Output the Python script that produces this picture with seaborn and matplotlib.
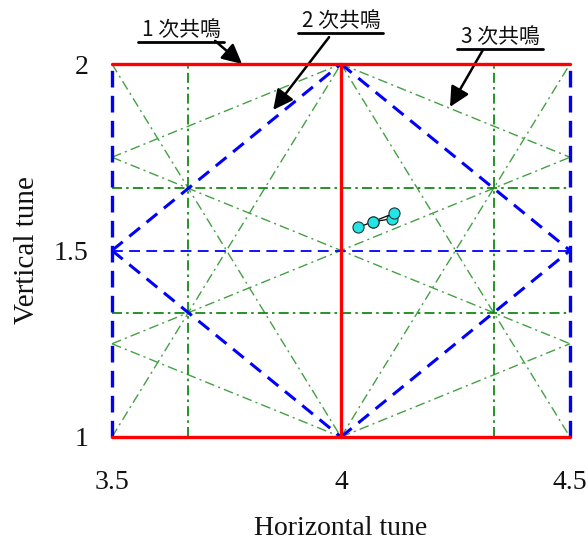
import matplotlib
matplotlib.use("Agg")
import matplotlib.pyplot as plt
from matplotlib.lines import Line2D
import seaborn as sns
import pandas as pd

# resonance lines a*Qx + b*Qy = n, grouped by order
order1 = [(1, 0, 4), (0, 1, 1), (0, 1, 2)]
order2_edges = [(2, 0, 7), (2, 0, 9)]
order2_mid = [(0, 2, 3)]
order2_diag = [(1, 1, 5), (1, 1, 6), (1, -1, 2), (1, -1, 3)]
order3_straight = [(3, 0, 11), (3, 0, 13), (0, 3, 4), (0, 3, 5)]
order3_diag = [(2, 1, 9), (2, 1, 10), (2, -1, 6), (2, -1, 7),
               (1, 2, 6), (1, 2, 7), (1, 2, 8),
               (1, -2, 0), (1, -2, 1), (1, -2, 2)]

# measured tune points
tune_run = [1, 1, 1, 2, 2]
tune_x = [4.038, 4.069, 4.111, 4.069, 4.116]
tune_y = [1.562, 1.577, 1.585, 1.577, 1.600]

x_ticks = [3.5, 4, 4.5]
x_labels = ["3.5", "4", "4.5"]
y_ticks = [1, 1.5, 2]
y_labels = ["1", "1.5", "2"]

labels = ["1 次共鳴", "2 次共鳴", "3 次共鳴"]
label_pos = [(3.651, 2.091), (4.000, 2.115), (4.349, 2.072)]
arrow_from = [(3.725, 2.062), (3.974, 2.072), (4.310, 2.038)]
arrow_to = [(3.784, 2.000), (3.852, 1.877), (4.238, 1.885)]

XMIN, XMAX, YMIN, YMAX = 3.5, 4.5, 1.0, 2.0


def segment(a, b, n):
    # clip the line a*x+b*y=n to the tune box
    pts = []
    if b != 0:
        for x in (XMIN, XMAX):
            y = (n - a * x) / b
            if YMIN - 1e-9 <= y <= YMAX + 1e-9:
                pts.append((x, y))
    if a != 0:
        for y in (YMIN, YMAX):
            x = (n - b * y) / a
            if XMIN - 1e-9 <= x <= XMAX + 1e-9:
                pts.append((x, y))
    pts = sorted(set((round(p[0], 9), round(p[1], 9)) for p in pts))
    return pts[0], pts[-1]


sns.set_theme(style="white")
plt.rcParams["font.family"] = ["Liberation Serif", "DejaVu Serif"]

fig = plt.figure(figsize=(5.88, 5.44), dpi=100)
ax = fig.add_axes([112 / 588, 107 / 544, 458 / 588, 373 / 544])


def draw(lines, **kw):
    for a, b, n in lines:
        p, q = segment(a, b, n)
        ax.plot([p[0], q[0]], [p[1], q[1]], clip_on=False, **kw)


draw(order3_diag, color="#44a044", lw=1.0, linestyle=(0, (7, 3, 1.5, 3)), zorder=1)
draw(order3_straight, color="#008000", lw=1.2, linestyle=(0, (6, 2.5, 1.5, 2.5)), zorder=2)
draw(order2_mid, color="#0000ff", lw=1.3, linestyle=(0, (6, 3.5)), zorder=3)
draw(order2_diag, color="#0000ff", lw=2.2, linestyle=(0, (4.5, 2.8)), zorder=3)
draw(order2_edges, color="#0000ff", lw=2.4, linestyle=(0, (5, 2.5)), zorder=3)
draw(order1, color="#ff0000", lw=2.4, zorder=4)

df = pd.DataFrame({"run": tune_run, "Qx": tune_x, "Qy": tune_y})
sns.lineplot(data=df, x="Qx", y="Qy", units="run", estimator=None, sort=False,
             color="black", lw=0.9, marker="o", markersize=8,
             markerfacecolor="#22e5e5", markeredgecolor="#1a3a3a",
             markeredgewidth=0.8, ax=ax, zorder=5, legend=False)

ax.set_xlim(XMIN, XMAX)
ax.set_ylim(YMIN, YMAX)
ax.set_xticks(x_ticks, x_labels)
ax.set_yticks(y_ticks, y_labels)
for s in ax.spines.values():
    s.set_visible(False)
ax.tick_params(axis="x", length=0, pad=24, labelsize=20, labelcolor="#111111")
ax.tick_params(axis="y", length=0, pad=17, labelsize=20, labelcolor="#111111")
ax.set_xlabel("Horizontal tune", fontsize=20, labelpad=15, color="#111111")
ax.set_ylabel("Vertical tune", fontsize=21, labelpad=10, color="#111111")

texts = []
for lab, (tx, ty) in zip(labels, label_pos):
    t = ax.text(tx, ty, lab, ha="center", va="center", fontsize=15,
                family=["Noto Sans CJK JP", "DejaVu Sans"], color="#111111")
    texts.append(t)
for (fx, fy), (tx, ty) in zip(arrow_from, arrow_to):
    ax.annotate("", xy=(tx, ty), xytext=(fx, fy), annotation_clip=False,
                arrowprops=dict(arrowstyle="-|>", color="black", lw=1.8,
                                mutation_scale=30, shrinkA=0, shrinkB=0))

# underline each label
fig.canvas.draw()
r = fig.canvas.get_renderer()
W, H = fig.bbox.width, fig.bbox.height
for t in texts:
    bb = t.get_window_extent(r)
    yl = (bb.y0 - 1) / H
    fig.add_artist(Line2D([(bb.x0 - 4) / W, (bb.x1 + 3) / W], [yl, yl],
                          color="black", lw=2.0))

fig.savefig("out.png", dpi=100)
